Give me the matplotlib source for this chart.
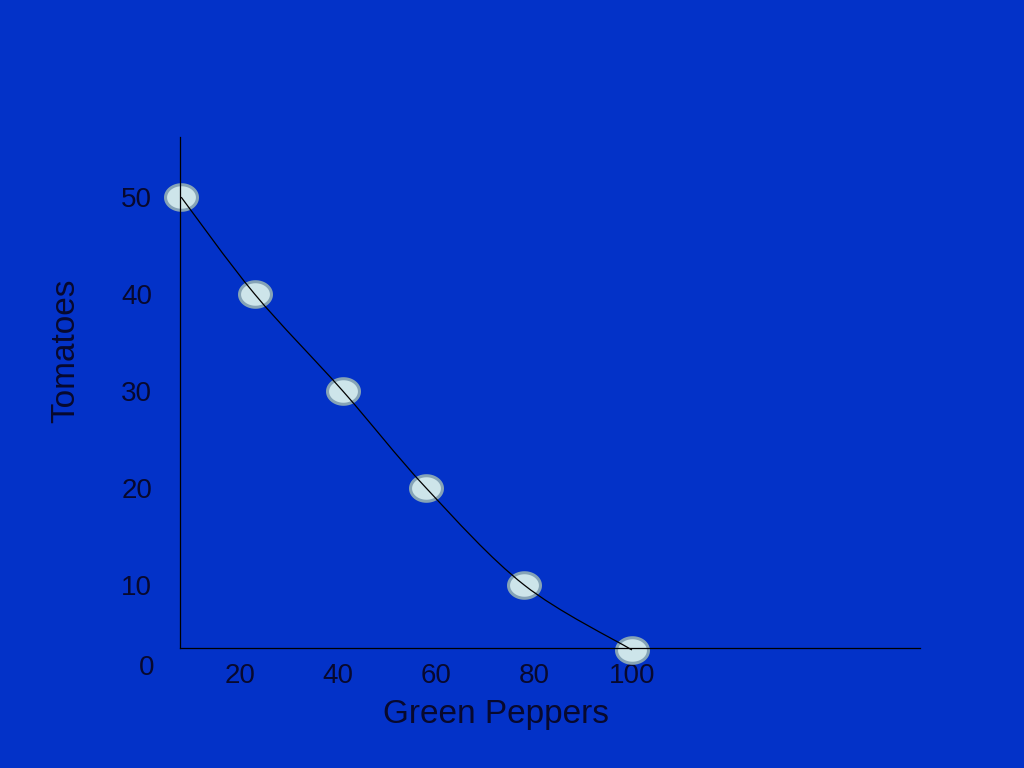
import numpy as np
import matplotlib
matplotlib.use("Agg")
import matplotlib.pyplot as plt
from matplotlib.path import Path
from matplotlib.patches import PathPatch

# Production possibilities
peppers = [8, 23, 41, 58, 78, 100]
tomatoes = [50, 40, 30, 20, 10, 3.3]

x_ticks = [20, 40, 60, 80, 100]
y_ticks = [10, 20, 30, 40, 50]

bg = "#0332c8"
ink = "#08092e"

plt.rcParams['font.family'] = ['Liberation Sans', 'DejaVu Sans']

fig = plt.figure(figsize=(10.24, 7.68), dpi=100, facecolor=bg)
ax = fig.add_axes([180 / 1024, 120 / 768, 740 / 1024, 511 / 768])
ax.set_facecolor(bg)

# axis ranges chosen so the slide's axes lines sit where they do
ax.set_xlim(7.76, 158.8)
ax.set_ylim(3.5, 56.2)

for side in ['top', 'right']:
    ax.spines[side].set_visible(False)
for side in ['left', 'bottom']:
    ax.spines[side].set_color('black')
    ax.spines[side].set_linewidth(0.9)

ax.set_xticks(x_ticks)
ax.set_xticklabels([str(v) for v in x_ticks])
ax.set_yticks(y_ticks)
ax.set_yticklabels([str(v) for v in y_ticks])
ax.tick_params(axis='x', length=0, pad=11, labelsize=20, labelcolor=ink)
ax.tick_params(axis='y', length=0, pad=20, labelsize=20, labelcolor=ink)
ax.text(1, 1.4, '0', ha='center', va='center', fontsize=20, color=ink, clip_on=False)

# ellipse markers
t = np.linspace(0, 2 * np.pi, 60)
ellipse = Path(np.column_stack([np.cos(t), 0.8 * np.sin(t)]), closed=True)
ax.plot(peppers, tomatoes, linestyle='none', marker=ellipse, markersize=23,
        markerfacecolor='#cde5ea', markeredgecolor='#86a4b6', markeredgewidth=2.2,
        zorder=2, clip_on=False)

# smooth curve through the points (Catmull-Rom as cubic Bezier)
pts = np.column_stack([peppers, tomatoes])
ext = np.vstack([pts[0], pts, pts[-1]])
verts = [pts[0]]
codes = [Path.MOVETO]
for i in range(1, len(ext) - 2):
    p0, p1, p2, p3 = ext[i - 1], ext[i], ext[i + 1], ext[i + 2]
    verts += [p1 + (p2 - p0) / 6, p2 - (p3 - p1) / 6, p2]
    codes += [Path.CURVE4] * 3
ax.add_patch(PathPatch(Path(verts, codes), facecolor='none', edgecolor='black',
                       linewidth=0.9, zorder=3, clip_on=False))

fig.text(496 / 1024, 1 - 714 / 768, 'Green Peppers', ha='center', va='center',
         fontsize=24, color=ink)
fig.text(66 / 1024, 1 - 351 / 768, 'Tomatoes', ha='center', va='center',
         rotation=90, fontsize=24, color=ink)

fig.savefig('out.png', dpi=100, facecolor=bg)
